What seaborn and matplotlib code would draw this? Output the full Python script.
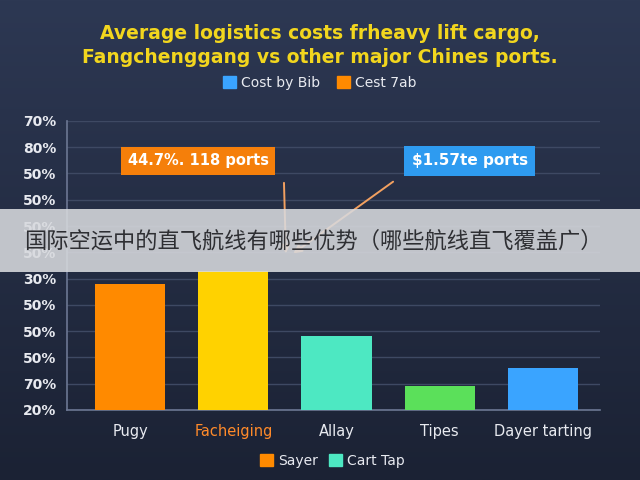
import numpy as np
import matplotlib
matplotlib.use("Agg")
import matplotlib.pyplot as plt
import seaborn as sns
from matplotlib.patches import Patch, Rectangle
from matplotlib.colors import LinearSegmentedColormap

# -------------------------------
# Data
# -------------------------------
ports = ["Pugy", "Facheiging", "Allay", "Tipes", "Dayer tarting"]
values = [4.8, 5.3, 2.8, 0.9, 1.6]
bar_colors = ["#FF8A00", "#FFD200", "#4DE8C2", "#5BE05A", "#3AA4FF"]
ytick_labels = ["20%", "70%", "50%", "50%", "50%", "30%", "50%", "50%", "50%", "50%", "80%", "70%"]

title = "Average logistics costs frheavy lift cargo,\nFangchenggang vs other major Chines ports."
top_legend = [("Cost by Bib", "#3AA4FF"), ("Cest 7ab", "#FF8A00")]
bottom_legend = [("Sayer", "#FF8A00"), ("Cart Tap", "#4DE8C2")]
note_left = "44.7%. 118 ports"
note_right = "$1.57te ports"
overlay_text = "国际空运中的直飞航线有哪些优势（哪些航线直飞覆盖广）"

# -------------------------------
# Style
# -------------------------------
sns.set_theme(style="dark")
plt.rcParams["font.family"] = ["DejaVu Sans", "Noto Sans CJK SC"]
text_col = "#E8EAF0"

fig = plt.figure(figsize=(6.4, 4.8), dpi=100)

# background gradient
bg = fig.add_axes([0, 0, 1, 1], zorder=-10)
grad = np.linspace(0, 1, 256).reshape(-1, 1)
cmap = LinearSegmentedColormap.from_list("bg", ["#2D3853", "#1B2234"])
bg.imshow(grad, aspect="auto", cmap=cmap, extent=[0, 1, 0, 1])
bg.axis("off")

ax = fig.add_axes([0.105, 0.146, 0.832, 0.602])
ax.set_facecolor("none")

sns.barplot(x=ports, y=values, hue=ports, palette=bar_colors, legend=False,
            width=0.68, saturation=1, linewidth=0, ax=ax, zorder=3)

ax.set_xlim(-0.61, 4.55)
ax.set_ylim(0, 11)
ax.set_yticks(range(len(ytick_labels)))
ax.set_yticklabels(ytick_labels, color=text_col, fontsize=10, fontweight="bold")
ax.grid(axis="y", color="#3E4963", linewidth=1, zorder=0)
ax.grid(axis="x", visible=False)
ax.tick_params(axis="both", length=0, pad=8)
ax.tick_params(axis="x", pad=10)
for lbl in ax.get_xticklabels():
    lbl.set_fontsize(10.5)
    lbl.set_color(text_col)
ax.get_xticklabels()[1].set_color("#FF8A2A")
ax.set_xlabel("")
ax.set_ylabel("")
for side in ["top", "right"]:
    ax.spines[side].set_visible(False)
for side in ["left", "bottom"]:
    ax.spines[side].set_color("#6C7793")
    ax.spines[side].set_linewidth(1.2)

# title
fig.text(0.5, 0.905, title, ha="center", va="center", color="#F2D61E",
         fontsize=13.5, fontweight="bold", linespacing=1.3)

# legends
fig.legend(handles=[Patch(color=c, label=l) for l, c in top_legend],
           loc="center", bbox_to_anchor=(0.5, 0.827), ncol=2, frameon=False,
           labelcolor=text_col, fontsize=10, handlelength=0.9, handleheight=0.9,
           handletextpad=0.4, columnspacing=1.2)
fig.legend(handles=[Patch(color=c, label=l) for l, c in bottom_legend],
           loc="center", bbox_to_anchor=(0.52, 0.04), ncol=2, frameon=False,
           labelcolor=text_col, fontsize=10, handlelength=0.9, handleheight=0.9,
           handletextpad=0.4, columnspacing=0.8)

# callout boxes and arrows
ax.text(0.66, 9.48, note_left, ha="center", va="center", color="white",
        fontsize=10.5, fontweight="bold", zorder=5,
        bbox=dict(boxstyle="square,pad=0.45", fc="#F57F0A", ec="none"))
ax.text(3.29, 9.48, note_right, ha="center", va="center", color="white",
        fontsize=11, fontweight="bold", zorder=5,
        bbox=dict(boxstyle="square,pad=0.5", fc="#2E9BF0", ec="none"))
ax.annotate("", xy=(1.51, 5.85), xytext=(1.49, 8.75), zorder=5,
            arrowprops=dict(arrowstyle="-|>", color="#F2A060", lw=1.4))
ax.annotate("", xy=(1.56, 5.9), xytext=(2.57, 8.75), zorder=5,
            arrowprops=dict(arrowstyle="-|>", color="#F2A060", lw=1.4))

# overlay band with Chinese caption
fig.patches.append(Rectangle((0, 0.433), 1, 0.132, transform=fig.transFigure,
                             facecolor="#D8DADE", edgecolor="none", alpha=0.88, zorder=20))
fig.text(0.49, 0.498, overlay_text, ha="center", va="center", color="#2E2F33",
         fontsize=16, family=["Noto Sans CJK SC", "DejaVu Sans"], zorder=21)

fig.savefig("out.png", dpi=100)
